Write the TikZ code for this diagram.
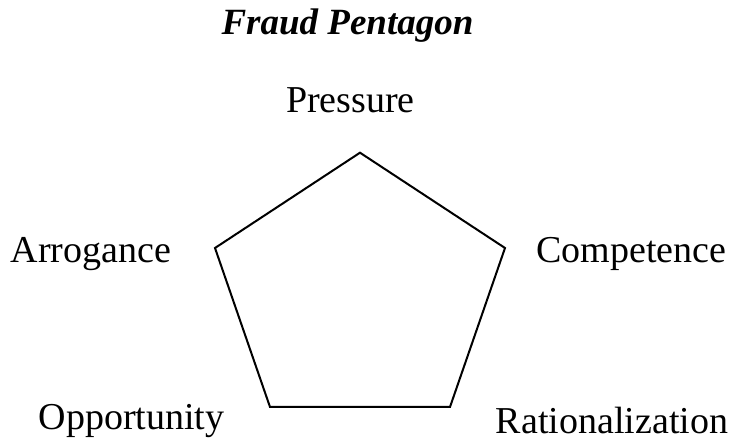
\documentclass[tikz,border=0pt]{standalone}
\usepackage{fontspec}
\setmainfont{Liberation Serif}
\usetikzlibrary{positioning}
\tikzset{
  lbl/.style={anchor=base,inner sep=0pt,font=\fontsize{38}{44}\selectfont},
  ttl/.style={anchor=base,inner sep=0pt,font=\fontsize{37}{44}\selectfont\bfseries\itshape},
  edge/.style={line width=2pt,line join=miter}
}
\begin{document}
\begin{tikzpicture}[x=1pt,y=-1pt]
\useasboundingbox (0,0) rectangle (731,443);
\node[ttl] (title) at (347.5,35) {Fraud Pentagon};
\coordinate (pp) at (360,152.7); \coordinate (pc) at (505,248);
\coordinate (pr) at (450,407); \coordinate (po) at (270,407);
\coordinate (pa) at (215,248);
\draw[edge] (pp) -- (pc) -- (pr) -- (po) -- (pa) -- cycle;
\node[lbl] (press) at (350.5,113) {Pressure};
\node[lbl] (comp) at (631.5,263) {Competence};
\node[lbl] (rat) at (612,433) {Rationalization};
\node[lbl] (opp) at (131.5,430) {Opportunity};
\node[lbl] (arr) at (91,263) {Arrogance};
\end{tikzpicture}
\end{document}
